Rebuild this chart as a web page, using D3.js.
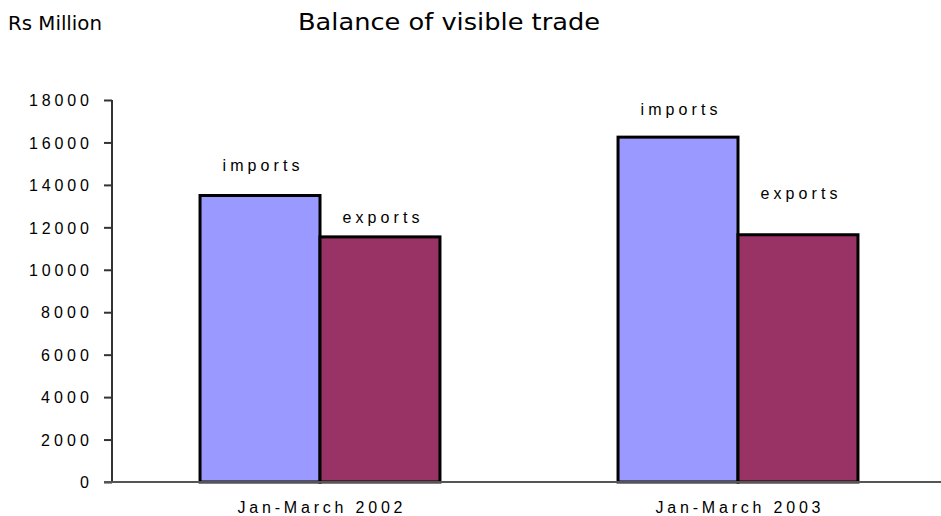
<!DOCTYPE html>
<html>
<head>
<meta charset="utf-8">
<script src="https://cdn.jsdelivr.net/npm/d3@7"></script>
<style>
  html, body { margin: 0; padding: 0; background: #fff; }
  svg { display: block; }
</style>
</head>
<body>
<svg id="chart" width="941" height="516"></svg>
<script>
// ---- data ----
const categories = ["Jan-March 2002", "Jan-March 2003"];
const seriesNames = ["imports", "exports"];
const imports = [13500, 16250];
const exports = [11550, 11650];
const yTicks = [0, 2000, 4000, 6000, 8000, 10000, 12000, 14000, 16000, 18000];
const titleText = "Balance of visible trade";
const unitText = "Rs Million";

// ---- layout / style (not data) ----
const colors = { imports: "#9999ff", exports: "#993366" };
const labelGap = [25, 14, 22, 36]; // manual data-label placement in the original

const svg = d3.select("#chart");
const plot = { left: 112, right: 947, top: 100, bottom: 482 };

const x0 = d3.scaleBand().domain(categories)
  .range([plot.left - 1, plot.right])
  .paddingInner(0.426).paddingOuter(0.213);
const x1 = d3.scaleBand().domain(seriesNames).range([0, x0.bandwidth()]);
const y = d3.scaleLinear().domain([0, 18000]).range([plot.bottom, plot.top]);

const rows = [];
categories.forEach((c, i) => {
  rows.push({ cat: c, s: "imports", v: imports[i] });
  rows.push({ cat: c, s: "exports", v: exports[i] });
});

// title texts
svg.append("text").attr("x", 8).attr("y", 30)
  .attr("font-family", "DejaVu Sans, Verdana, sans-serif").attr("font-size", 19)
  .attr("textLength", 94).attr("lengthAdjust", "spacingAndGlyphs")
  .attr("fill", "#000").text(unitText);
svg.append("text").attr("x", 298).attr("y", 30)
  .attr("font-family", "DejaVu Sans, Verdana, sans-serif").attr("font-size", 23)
  .attr("textLength", 302).attr("lengthAdjust", "spacingAndGlyphs")
  .attr("fill", "#000").text(titleText);

// bars
svg.append("g").selectAll("rect").data(rows).join("rect")
  .attr("x", d => x0(d.cat) + x1(d.s))
  .attr("y", d => y(d.v))
  .attr("width", x1.bandwidth())
  .attr("height", d => y(0) - y(d.v))
  .attr("fill", d => colors[d.s])
  .attr("stroke", "#000").attr("stroke-width", 3);

// data labels (series names)
svg.append("g").selectAll("text").data(rows).join("text")
  .attr("x", d => x0(d.cat) + x1(d.s) + x1.bandwidth() / 2 + 1)
  .attr("y", (d, i) => y(d.v) - labelGap[i])
  .attr("text-anchor", "middle")
  .attr("font-family", "Liberation Sans, Arial, sans-serif").attr("font-size", 16)
  .attr("textLength", 77).attr("lengthAdjust", "spacing")
  .attr("fill", "#000").text(d => d.s);

// y axis
const yAxis = d3.axisLeft(y).tickValues(yTicks).tickSize(8).tickPadding(15)
  .tickFormat(d => String(d));
const gy = svg.append("g").attr("transform", `translate(${plot.left},0)`).call(yAxis);
gy.select(".domain").attr("stroke", "#333").attr("stroke-width", 2)
  .attr("d", `M0,${plot.top}V${plot.bottom}`);
gy.selectAll(".tick line").attr("stroke", "#333").attr("stroke-width", 2);
gy.selectAll(".tick text")
  .attr("font-family", "Liberation Sans, Arial, sans-serif").attr("font-size", 16)
  .attr("fill", "#000").attr("dy", "0.36em")
  .attr("textLength", d => String(d).length * 12).attr("lengthAdjust", "spacing");

// x axis
const xAxis = d3.axisBottom(x0).tickSize(0).tickPadding(25);
const gx = svg.append("g").attr("transform", `translate(0,${plot.bottom})`).call(xAxis);
gx.select(".domain").attr("stroke", "#555").attr("stroke-width", 2)
  .attr("d", `M${plot.left - 8},0H941`);
gx.selectAll(".tick text")
  .attr("font-family", "Liberation Sans, Arial, sans-serif").attr("font-size", 16)
  .attr("fill", "#000").attr("dy", "0")
  .attr("y", 31)
  .attr("textLength", 165).attr("lengthAdjust", "spacing");
</script>
</body>
</html>
